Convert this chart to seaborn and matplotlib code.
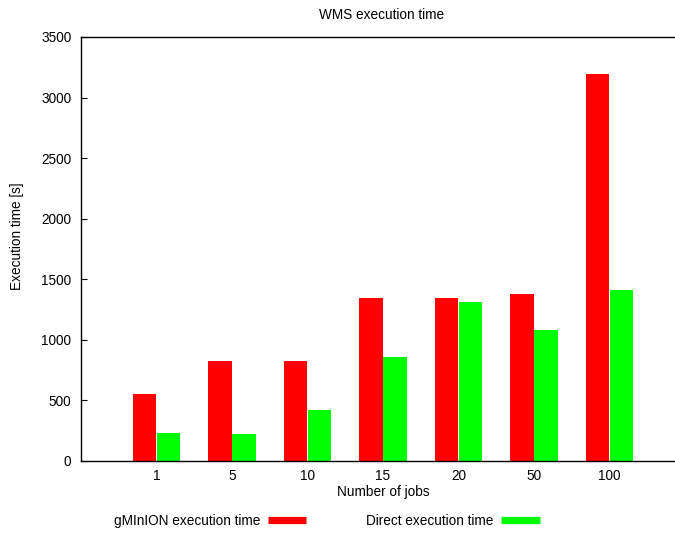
import matplotlib
matplotlib.use("Agg")
import matplotlib.pyplot as plt
import seaborn as sns
import pandas as pd
from matplotlib.lines import Line2D

# values
jobs = ['1', '5', '10', '15', '20', '50', '100']
gminion_time = [553, 828, 828, 1346, 1343, 1379, 3195]
direct_time = [229, 223, 421, 859, 1313, 1082, 1412]
series_names = ['gMInION execution time', 'Direct execution time']
colors = ['#ff0000', '#00ff00']
yticks = [0, 500, 1000, 1500, 2000, 2500, 3000, 3500]

df = pd.DataFrame({
    'jobs': jobs * 2,
    'time': gminion_time + direct_time,
    'series': [series_names[0]] * len(jobs) + [series_names[1]] * len(jobs),
})

sns.set_style('white')
plt.rcParams['font.family'] = ['Liberation Sans', 'DejaVu Sans']
plt.rcParams['text.color'] = 'black'
fs = 9.8

W, H = 675, 534
fig = plt.figure(figsize=(W / 100, H / 100), dpi=100)
ax = fig.add_axes([81 / W, 1 - 461 / H, (685 - 81) / W, (461 - 37) / H])

sns.barplot(data=df, x='jobs', y='time', hue='series', order=jobs,
            hue_order=series_names, palette=colors, width=0.645, gap=0.04,
            saturation=1, ax=ax, legend=False, linewidth=0)

ax.set_xlim(-1, 7)
ax.set_ylim(0, 3500)
ax.set_yticks(yticks)
ax.set_xlabel('')
ax.set_ylabel('')
ax.tick_params(direction='in', length=4, width=0.8, labelsize=fs, colors='black',
               bottom=True, left=True, top=False, right=False)
ax.tick_params(axis='y', pad=7)
ax.tick_params(axis='x', pad=5.5)
for s in ax.spines.values():
    s.set_color('black')
    s.set_linewidth(1.0)

fig.text(382 / W, 1 - 15 / H, 'WMS execution time', ha='center', va='center', fontsize=fs)
fig.text(383 / W, 1 - 492 / H, 'Number of jobs', ha='center', va='center', fontsize=fs)
fig.text(17 / W, 1 - 236 / H, 'Execution time [s]', ha='center', va='center',
         rotation=90, fontsize=fs)

handles = [Line2D([0], [0], color=c, linewidth=5.2, solid_capstyle='butt') for c in colors]
fig.legend(handles, series_names, loc='center left', bbox_to_anchor=(107 / W, 1 - 521 / H),
           ncol=2, frameon=False, fontsize=fs, markerfirst=False,
           handlelength=2.85, handletextpad=0.55, columnspacing=4.4, borderpad=0)

fig.savefig('out.png', dpi=100)
